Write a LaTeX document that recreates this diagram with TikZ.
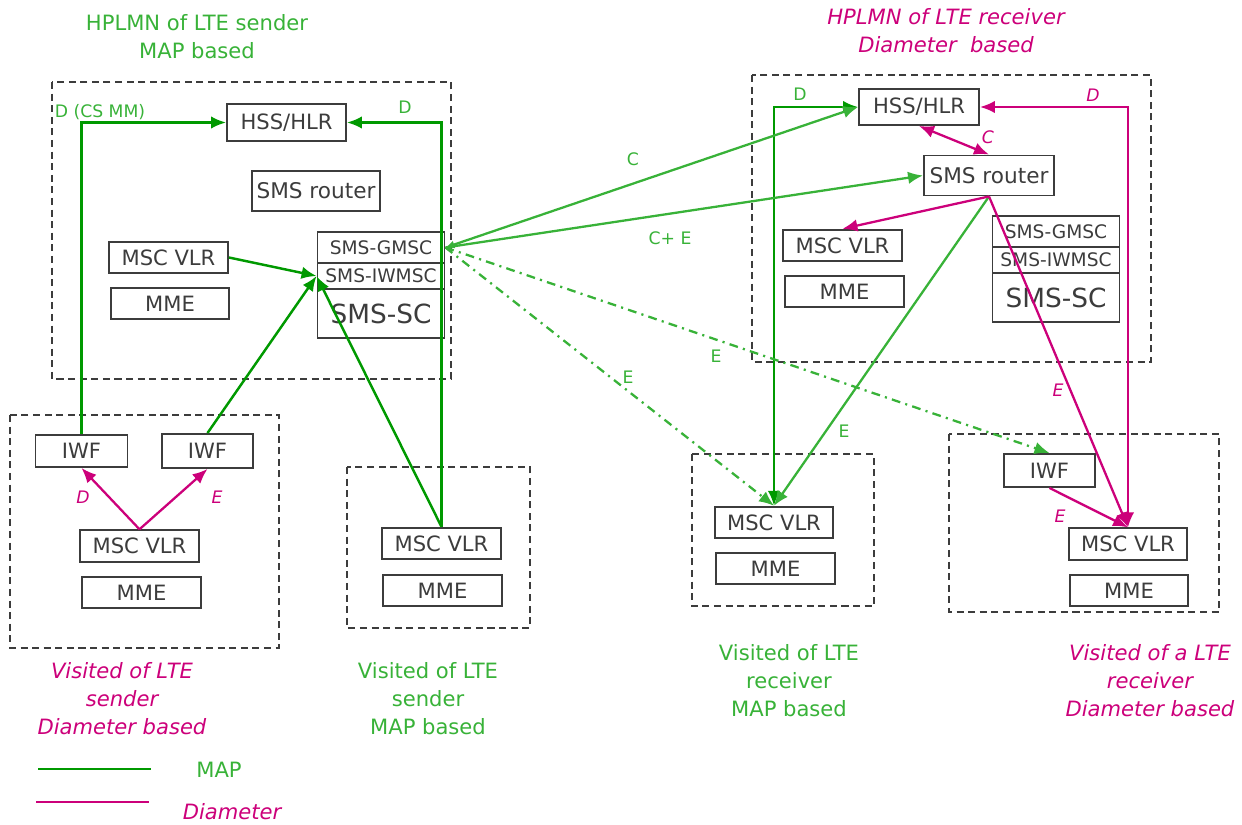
\documentclass[tikz,border=0pt]{standalone}
\usepackage{fontspec}
\setmainfont{DejaVu Sans}
\usetikzlibrary{arrows.meta}
\definecolor{mapgreen}{RGB}{0,153,0}
\definecolor{mapgreenlt}{RGB}{56,178,56}
\definecolor{diamag}{RGB}{204,0,122}
\definecolor{boxgray}{RGB}{60,60,60}

\begin{document}
\begin{tikzpicture}[x=0.02cm,y=-0.02cm,
  nbox/.style={draw=boxgray,line width=1.1pt,text=boxgray,inner sep=0pt,
    minimum width=2.38cm,minimum height=0.63cm,font=\fontsize{12}{14}\selectfont},
  smsbox/.style={nbox,minimum width=2.54cm,font=\fontsize{10.6}{12}\selectfont},
  region/.style={draw=boxgray,line width=0.9pt,dash pattern=on 4pt off 2.6pt},
  tip/.style={-{Latex[length=3mm,width=2.5mm]}},
  both/.style={{Latex[length=3mm,width=2.5mm]}-{Latex[length=3mm,width=2.5mm]}},
  mapline/.style={mapgreen,line width=1.4pt,tip},
  mapline2/.style={mapgreenlt,line width=1.3pt,tip},
  mapdash/.style={mapline2,dash pattern=on 5pt off 3pt on 1.2pt off 3pt},
  dialine/.style={diamag,line width=1.3pt,tip},
  maplbl/.style={text=mapgreenlt,inner sep=0pt,font=\fontsize{9.8}{11}\selectfont},
  dialbl/.style={text=diamag,inner sep=0pt,font=\fontsize{9.8}{11}\itshape},
  title/.style={align=center,inner sep=0pt,font=\fontsize{12}{15.9}\selectfont}
]
\useasboundingbox (0,0) rectangle (1242,825);

% regions
\draw[region] (52,82) rectangle (451,379);
\draw[region] (752,75) rectangle (1151,362);
\draw[region] (10,415) rectangle (279,648);
\draw[region] (347,467) rectangle (530,628);
\draw[region] (692,454) rectangle (874,606);
\draw[region] (949,434) rectangle (1219,612);

% HPLMN of LTE sender
\node[nbox,minimum width=2.38cm,minimum height=0.74cm] (hssA) at (286.5,122.5) {HSS/HLR};
\node[nbox,minimum width=2.56cm,minimum height=0.8cm,font=\fontsize{12.3}{14}\selectfont] (routerA) at (316,191) {SMS router};
\node[nbox] (mscA) at (168.5,257.5) {MSC VLR};
\node[nbox,minimum width=2.36cm] (mmeA) at (170,303.5) {MME};
\node[smsbox,minimum height=0.62cm] (gmscA) at (381,247.5) {SMS-GMSC};
\node[smsbox,minimum height=0.52cm] (iwmscA) at (381,276) {SMS-IWMSC};
\node[smsbox,minimum height=0.98cm,font=\fontsize{15}{17}\selectfont] (scA) at (381,313.5) {SMS-SC};

% HPLMN of LTE receiver
\node[nbox,minimum width=2.4cm,minimum height=0.72cm] (hssB) at (919,107) {HSS/HLR};
\node[nbox,minimum width=2.6cm,minimum height=0.8cm,font=\fontsize{12.3}{14}\selectfont] (routerB) at (989,175.5) {SMS router};
\node[nbox] (mscB) at (842.5,245.5) {MSC VLR};
\node[nbox] (mmeB) at (844.5,291.5) {MME};
\node[smsbox,minimum height=0.62cm] (gmscB) at (1056,231.5) {SMS-GMSC};
\node[smsbox,minimum height=0.52cm] (iwmscB) at (1056,260) {SMS-IWMSC};
\node[smsbox,minimum height=0.98cm,font=\fontsize{15}{17}\selectfont] (scB) at (1056,297.5) {SMS-SC};

% visited of LTE sender, Diameter
\node[nbox,minimum width=1.84cm,minimum height=0.64cm] (iwfA) at (81.5,451) {IWF};
\node[nbox,minimum width=1.82cm,minimum height=0.68cm] (iwfB) at (207.5,451) {IWF};
\node[nbox] (mscC) at (139.5,546) {MSC VLR};
\node[nbox] (mmeC) at (141.5,592.5) {MME};

% visited of LTE sender, MAP
\node[nbox] (mscD) at (441.5,543.5) {MSC VLR};
\node[nbox] (mmeD) at (442.5,590.5) {MME};

% visited of LTE receiver, MAP
\node[nbox,minimum width=2.36cm] (mscE) at (774,522.5) {MSC VLR};
\node[nbox] (mmeE) at (775.5,568.5) {MME};

% visited of LTE receiver, Diameter
\node[nbox,minimum width=1.82cm,minimum height=0.66cm] (iwfD) at (1049.5,470.5) {IWF};
\node[nbox,minimum width=2.36cm] (mscF) at (1128,544) {MSC VLR};
\node[nbox,minimum width=2.36cm] (mmeF) at (1129,590.5) {MME};

% MAP connectors
\draw[mapline] (iwfA.north) |- (hssA.west);
\draw[mapline] (mscD.north) |- (hssA.east);
\draw[mapline] (mscA.east) -- (iwmscA.west);
\draw[mapline] (iwfB.north) -- (iwmscA.west);
\draw[mapline] (mscD.north) -- (iwmscA.west);
\draw[mapline,both] (mscE.north) |- (hssB.west);
\draw[mapline2,{Latex[length=1.8mm,width=1.6mm]}-{Latex[length=3mm,width=2.5mm]}] (gmscA.east) -- (hssB.west);
\draw[mapline2] (gmscA.east) -- (routerB.west);
\draw[mapline2] (routerB.south) -- (mscE.north);
\draw[mapdash] (gmscA.east) -- (mscE.north);
\draw[mapdash] (gmscA.east) -- (iwfD.north);

% Diameter connectors
\draw[dialine] (mscC.north) -- (iwfA.south);
\draw[dialine] (mscC.north) -- (iwfB.south);
\draw[dialine,both] (hssB.south) -- (routerB.north);
\draw[dialine] (routerB.south) -- (mscB.north);
\draw[dialine] (routerB.south) -- (mscF.north);
\draw[dialine] (iwfD.south) -- (mscF.north);
\draw[dialine,both] (mscF.north) |- (hssB.east);

% interface labels
\node[maplbl] (lDcs) at (100,112) {D (CS MM)};
\node[maplbl] (lDa) at (405,107) {D};
\node[maplbl] (lDb) at (800,94) {D};
\node[maplbl] (lC) at (633,159) {C};
\node[maplbl] (lCE) at (670,238) {C+ E};
\node[maplbl] (lEa) at (716,356) {E};
\node[maplbl] (lEb) at (628,377) {E};
\node[maplbl] (lEc) at (844,431) {E};
\node[dialbl] (dD) at (1093,95) {D};
\node[dialbl] (dC) at (988,137) {C};
\node[dialbl] (dEa) at (1058,390) {E};
\node[dialbl] (dEb) at (1060,516) {E};
\node[dialbl] (dDc) at (83,497) {D};
\node[dialbl] (dEc) at (217,497) {E};

% titles
\node[title,text=mapgreenlt] (tA) at (197,36.5) {HPLMN of LTE sender\\MAP based};
\node[title,text=diamag,font=\fontsize{12}{15.9}\itshape] (tB) at (946,31) {HPLMN of LTE receiver\\Diameter\ \ based};
\node[title,text=diamag,font=\fontsize{12}{15.9}\itshape] (tC) at (122,698.5) {Visited of LTE\\sender\\Diameter based};
\node[title,text=mapgreenlt] (tD) at (428,698.5) {Visited of LTE\\sender\\MAP based};
\node[title,text=mapgreenlt] (tE) at (789,681) {Visited of LTE\\receiver\\MAP based};
\node[title,text=diamag,font=\fontsize{12}{15.9}\itshape] (tF) at (1150,681) {Visited of a LTE\\receiver\\Diameter based};

% legend
\coordinate (lgA1) at (38,769);
\coordinate (lgA2) at (151,769);
\coordinate (lgB1) at (36,802);
\coordinate (lgB2) at (149,802);
\draw[mapgreen,line width=1.3pt] (lgA1) -- (lgA2);
\draw[diamag,line width=1.3pt] (lgB1) -- (lgB2);
\node[title,text=mapgreenlt] (lgMAP) at (219,770) {MAP};
\node[title,text=diamag,font=\fontsize{12}{15.9}\itshape] (lgDia) at (232,812) {Diameter};
\end{tikzpicture}
\end{document}
